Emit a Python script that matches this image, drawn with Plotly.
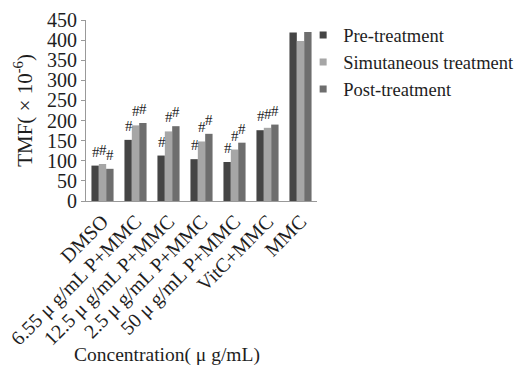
import plotly.graph_objects as go

categories = ["DMSO", "6.55 μ g/mL P+MMC", "12.5 μ g/mL P+MMC", "2.5 μ g/mL P+MMC",
              "50 μ g/mL P+MMC", "VitC+MMC", "MMC"]
pre = [88, 152, 113, 104, 97, 176, 419]
sim = [92, 188, 173, 148, 128, 182, 398]
post = [80, 194, 186, 167, 145, 190, 420]
marks_pre = ["#", "#", "#", "#", "#", "#", ""]
marks_sim = ["#", "#", "#", "#", "#", "#", ""]
marks_post = ["#", "#", "#", "#", "#", "#", ""]
series_names = ["Pre-treatment", "Simutaneous treatment", "Post-treatment"]
colors = ["#454545", "#a6a6a6", "#6e6e6e"]
x_title = "Concentration( μ g/mL)"
y_title = "TMF( × 10<sup>-6</sup>)"

FONT = "Liberation Serif"
TXT = "#1e1e1e"
fig = go.Figure()
for name, vals, col in zip(series_names, [pre, sim, post], colors):
    fig.add_trace(go.Bar(x=categories, y=vals, name=name, marker_color=col,
                         marker_line_width=0, showlegend=False))
for name, col in zip(series_names, colors):
    fig.add_trace(go.Scatter(x=[None], y=[None], mode="markers", name=name,
                             marker=dict(symbol="square", size=7, color=col)))

annotations = []
for vals, marks, shift in [(pre, marks_pre, -7), (sim, marks_sim, 0), (post, marks_post, 7)]:
    for c, v, m in zip(categories, vals, marks):
        if m:
            annotations.append(dict(x=c, y=v, text=m, showarrow=False, xshift=shift,
                                    yshift=14, font=dict(family=FONT, size=15, color=TXT)))
annotations.append(dict(xref="paper", yref="paper", x=0.35, y=-0.85, text=x_title,
                        showarrow=False, xanchor="center", yanchor="middle",
                        font=dict(family=FONT, size=19.5, color=TXT)))

# page body has an 8px default margin, so the figure is 8px smaller on each axis
fig.update_layout(
    width=520, height=357,
    margin=dict(l=78, r=211, t=12, b=164, autoexpand=False),
    paper_bgcolor="white", plot_bgcolor="white",
    barmode="group", bargap=0.33, bargroupgap=0,
    font=dict(family=FONT, color=TXT),
    annotations=annotations,
    legend=dict(x=0.94, y=1.02, xanchor="left", yanchor="top",
                font=dict(family=FONT, size=18.5, color=TXT),
                itemwidth=30, tracegroupgap=0, bgcolor="rgba(0,0,0,0)"),
    xaxis=dict(tickangle=-45, tickfont=dict(family=FONT, size=20, color=TXT),
               showline=True, linecolor="#999", linewidth=1, ticks="", automargin=False),
    yaxis=dict(range=[0, 450], dtick=50, showgrid=False, zeroline=False,
               showline=True, linecolor="#999", linewidth=1, ticks="outside",
               ticklen=4, tickcolor="#999", automargin=False,
               tickfont=dict(family=FONT, size=20, color=TXT),
               title=dict(text=y_title, font=dict(family=FONT, size=21, color=TXT),
                          standoff=8)),
)
fig.write_html("out.html")
